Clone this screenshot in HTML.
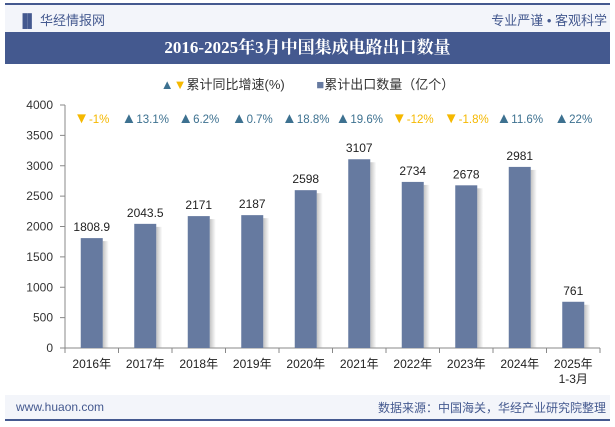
<!DOCTYPE html>
<html><head><meta charset="utf-8"><style>
body{margin:0;width:615px;height:427px;background:#fff;font-family:"Liberation Sans","Noto Sans CJK SC",sans-serif;overflow:hidden;position:relative}
.a{position:absolute}
</style></head><body>
<div class="a" style="left:5px;top:3px;width:605px;height:2px;background:#44598f"></div>
<div class="a" style="left:5px;top:5px;width:605px;height:27px;background:#f3f5fa"></div>
<div class="a" style="left:18px;top:10px;font-size:13px;color:#44598f">▐▌ 华经情报网</div>
<div class="a" style="right:8px;top:10px;font-size:13px;color:#44598f">专业严谨 • 客观科学</div>
<div class="a" style="left:5px;top:32px;width:605px;height:32px;background:#44598f;color:#fff;font-size:17px;font-weight:bold;text-align:center;line-height:32px;font-family:'Liberation Serif','Noto Serif CJK SC',serif">2016-2025年3月中国集成电路出口数量</div>
<div class="a" style="left:0;width:615px;top:74px;text-align:center;font-size:13px;color:#333">
<span><span style="color:#3d7190">▲</span><span style="color:#f5b800">▼</span>累计同比增速(%)</span>
<span style="margin-left:28px"><span style="color:#667aa0">■</span>累计出口数量（亿个）</span></div>
<svg class="a" style="left:0;top:0" width="615" height="427" id="c"></svg>
<div class="a" style="left:5px;top:395px;width:605px;height:24px;background:#f3f5fa"></div>
<div class="a" style="left:16px;top:400px;font-size:12px;color:#44598f">www.huaon.com</div>
<div class="a" style="right:9px;top:399px;font-size:12px;color:#44598f">数据来源：中国海关，华经产业研究院整理</div>
<div class="a" style="left:5px;top:419px;width:605px;height:2px;background:#44598f"></div>
<script>
const categories=["2016年","2017年","2018年","2019年","2020年","2021年","2022年","2023年","2024年","2025年"];
const values=[1808.9,2043.5,2171,2187,2598,3107,2734,2678,2981,761];
const valueLabels=["1808.9","2043.5","2171","2187","2598","3107","2734","2678","2981","761"];
const growth=[-1,13.1,6.2,0.7,18.8,19.6,-12,-1.8,11.6,22];
const growthLabels=["-1%","13.1%","6.2%","0.7%","18.8%","19.6%","-12%","-1.8%","11.6%","22%"];
const ticks=[0,500,1000,1500,2000,2500,3000,3500,4000];
const s=document.getElementById('c'),N='http://www.w3.org/2000/svg';
const x0=65,x1=600,y0=348,y1=105,max=4000;
const bw=(x1-x0)/categories.length;
const y=v=>y0-(y0-y1)*v/max, xc=i=>x0+bw*(i+0.5);
function mk(t,a,txt){const e=document.createElementNS(N,t);for(const k in a)e.setAttribute(k,a[k]);if(txt!=null)e.textContent=txt;s.appendChild(e);return e;}
const d=mk('defs',{});d.innerHTML='<linearGradient id="sh"><stop offset="0" stop-color="#999" stop-opacity=".6"/><stop offset="1" stop-color="#999" stop-opacity="0"/></linearGradient>';
let e=mk('line',{x1:x0,x2:x0,y1:y1,y2:y0,stroke:'#888'});
e=mk('line',{x1:x0,x2:x1,y1:y0,y2:y0,stroke:'#888'});
ticks.forEach(t=>{mk('line',{x1:x0-5,x2:x0,y1:y(t),y2:y(t),stroke:'#888'});
e=mk('text',{x:x0-12,y:y(t)+4,'text-anchor':'end','font-size':12,fill:'#333'},t);});
for(let i=0;i<=categories.length;i++)mk('line',{x1:x0+bw*i,x2:x0+bw*i,y1:y0,y2:y0+5,stroke:'#888'});
categories.forEach((c,i)=>{const cx=xc(i),h=y0-y(values[i]);
mk('rect',{x:cx+11,y:y(values[i])+3,width:6,height:h-3,fill:'url(#sh)'});
e=mk('rect',{x:cx-11,y:y(values[i]),width:22,height:h,fill:'#667aa0'});
e=mk('text',{x:cx,y:y(values[i])-7,'text-anchor':'middle','font-size':12,fill:'#222'},valueLabels[i]);
e=mk('text',{x:cx,y:368,'text-anchor':'middle','font-size':12,fill:'#222'},c);
if(i==categories.length-1){e=mk('text',{x:cx,y:383,'text-anchor':'middle','font-size':12,fill:'#222'},'1-3月');}
const up=growth[i]>=0;
e=mk('text',{x:cx,y:123,'text-anchor':'middle','font-size':11.5,fill:up?'#3d7190':'#f5b800'});


const ts=document.createElementNS(N,'tspan');ts.setAttribute('font-size','15');ts.textContent=up?'▲':'▼';e.appendChild(ts);
const t2=document.createElementNS(N,'tspan');t2.textContent=growthLabels[i];e.appendChild(t2);
});
</script>
</body></html>
